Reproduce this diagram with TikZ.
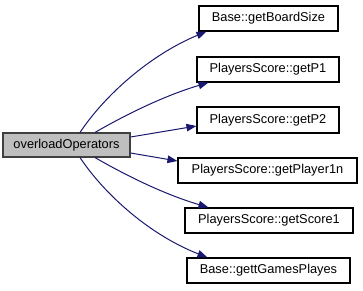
\documentclass[tikz,border=0pt]{standalone}
\usepackage{fontspec}
\setmainfont{Liberation Sans}
\usetikzlibrary{arrows.meta}
\definecolor{edgeblue}{HTML}{191970}
\definecolor{mainfill}{HTML}{BFBFBF}
\begin{document}
\begin{tikzpicture}[x=1bp,y=-1bp,
  fnbox/.style={draw=black, line width=1.1bp, fill=white, inner sep=0pt,
    minimum height=25bp, font=\fontsize{12.8bp}{14bp}\selectfont},
  mainbox/.style={fnbox, fill=mainfill, draw=black!75},
  call/.style={draw=edgeblue, line width=1bp,
    -{Triangle[length=10bp,width=7.5bp]}}]
\useasboundingbox (0,0) rectangle (363,291);

% caller
\node[mainbox, minimum width=127bp, minimum height=24bp] (main) at (66.5,145) {overloadOperators};

% callees
\node[fnbox, minimum width=139bp] (bs) at (268.5,18.5) {Base::getBoardSize};
\node[fnbox, minimum width=142bp] (p1) at (268,69.5) {PlayersScore::getP1};
\node[fnbox, minimum width=142bp, minimum height=26bp] (p2) at (268,120) {PlayersScore::getP2};
\node[fnbox, minimum width=179bp] (pn) at (267.5,170.5) {PlayersScore::getPlayer1n};
\node[fnbox, minimum width=168bp] (s1) at (269,220.5) {PlayersScore::getScore1};
\node[fnbox, minimum width=163bp] (gm) at (268.5,270.5) {Base::gettGamesPlayes};

% calls
\draw[call] ([xshift=13.5bp]main.north) .. controls (105,95) and (150,55) .. ([xshift=8bp]bs.south west);
\draw[call] ([xshift=28.5bp]main.north) .. controls (120,118) and (160,97) .. ([xshift=12bp]p1.south west);
\draw[call] ([yshift=8bp]main.east) -- ([yshift=-6bp]p2.west);
\draw[call] ([yshift=-8bp]main.east) -- ([yshift=9.5bp]pn.west);
\draw[call] ([xshift=28.5bp]main.south) .. controls (120,172) and (160,193) .. ([xshift=24bp]s1.north west);
\draw[call] ([xshift=13.5bp]main.south) .. controls (105,195) and (150,235) .. ([xshift=21bp]gm.north west);
\end{tikzpicture}
\end{document}
